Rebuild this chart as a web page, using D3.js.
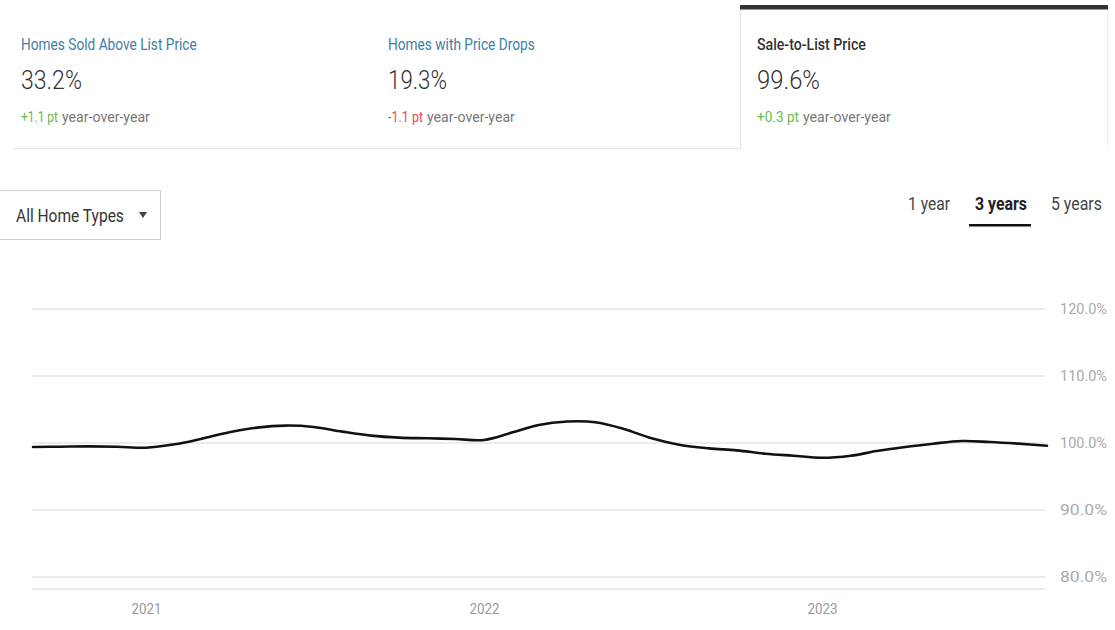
<!DOCTYPE html>
<html>
<head>
<meta charset="utf-8">
<script src="https://cdn.jsdelivr.net/npm/d3@7"></script>
<style>
  html, body { margin: 0; padding: 0; background: #fff; }
  svg { display: block; }
  text { font-family: Roboto, 'Noto Sans', sans-serif; }
</style>
</head>
<body>
<svg id="chart" width="1115" height="630"></svg>
<script>
// Monthly sale-to-list price ratio (%), Sep 2020 through Sep 2023
const months = d3.timeMonths(new Date(2020, 8, 1), new Date(2023, 9, 1));
const saleToList = [
  99.4, 99.45, 99.5, 99.45, 99.3, 99.8, 100.6, 101.6, 102.3, 102.6, 102.4, 101.7,
  101.1, 100.8, 100.7, 100.6, 100.45, 101.6, 102.7, 103.2, 103.1, 102.1, 100.7, 99.7,
  99.2, 98.9, 98.4, 98.1, 97.8, 98.1, 98.8, 99.4, 99.9, 100.3, 100.15, 99.9, 99.6
];
const yTicks = [80, 90, 100, 110, 120];
const xTickYears = [2021, 2022, 2023];

// Summary cards
const cardTitles = ["Homes Sold Above List Price", "Homes with Price Drops", "Sale-to-List Price"];
const cardValues = ["33.2%", "19.3%", "99.6%"];
const cardDeltas = ["+1.1 pt", "-1.1 pt", "+0.3 pt"];
const deltaCaption = "year-over-year";
const rangeOptions = ["1 year", "3 years", "5 years"];
const homeTypeLabel = "All Home Types";

// rendered widths of the condensed UI type
const titleW = [176, 147, 109];
const valueW = [61, 59, 63];
const deltaW = [37, 35, 42];
const captionW = 88;
const rangeW = [42, 52, 51];

const svg = d3.select("#chart");

// Squeeze a text horizontally to a given width (condensed look)
function fit(sel, w) {
  sel.each(function () {
    const t = d3.select(this);
    const x0 = +t.attr("x") || 0;
    const natural = this.getComputedTextLength();
    const k = natural > 0 ? w / natural : 1;
    const anchor = t.attr("text-anchor") || getComputedStyle(this).textAnchor;
    t.attr("x", 0)
      .attr("transform", `translate(${x0},0) scale(${k},1)`);
  });
}

// ---- cards ----
const cardTextX = [21, 388, 757];
const cardRight = 1107;
const activeCard = 2;

// bottom divider under the inactive cards
svg.append("line")
  .attr("x1", 13).attr("x2", 740).attr("y1", 148.5).attr("y2", 148.5)
  .attr("stroke", "#e3e3e3").attr("stroke-width", 1);
// active card frame
svg.append("line")
  .attr("x1", 740.5).attr("x2", 740.5).attr("y1", 8).attr("y2", 149)
  .attr("stroke", "#e3e3e3");
svg.append("line")
  .attr("x1", cardRight + 0.5).attr("x2", cardRight + 0.5).attr("y1", 8).attr("y2", 149)
  .attr("stroke", "#eeeeee");
svg.append("rect")
  .attr("x", 740).attr("y", 5).attr("width", cardRight - 740 + 1).attr("height", 4.5)
  .attr("fill", "#333");

const cards = svg.selectAll("g.card")
  .data(cardTitles.map((t, i) => ({ t, v: cardValues[i], d: cardDeltas[i], i })))
  .join("g")
  .attr("class", "card")
  .attr("transform", d => `translate(${cardTextX[d.i]},0)`);

cards.append("text")
  .attr("y", 50)
  .attr("font-size", 16)
  .attr("fill", d => d.i === activeCard ? "#333" : "#3f7ea6")
  .attr("font-weight", d => d.i === activeCard ? 500 : 400)
  .text(d => d.t)
  .each(function (d) { fit(d3.select(this), titleW[d.i]); });

cards.append("text")
  .attr("y", 89)
  .attr("font-size", 26)
  .attr("font-weight", 300)
  .attr("fill", "#333")
  .text(d => d.v)
  .each(function (d) { fit(d3.select(this), valueW[d.i]); });

cards.append("text")
  .attr("y", 122)
  .attr("font-size", 15)
  .attr("fill", d => d.d.startsWith("-") ? "#f0444f" : "#6cb84e")
  .text(d => d.d)
  .each(function (d) { fit(d3.select(this), deltaW[d.i]); });

cards.append("text")
  .attr("x", d => deltaW[d.i] + 4)
  .attr("y", 122)
  .attr("font-size", 15)
  .attr("fill", "#777")
  .text(deltaCaption)
  .call(fit, captionW);

// ---- home type dropdown ----
svg.append("rect")
  .attr("x", -1.5).attr("y", 190.5).attr("width", 162).attr("height", 49)
  .attr("fill", "#fff").attr("stroke", "#cfcfcf");
svg.append("text")
  .attr("x", 16).attr("y", 222)
  .attr("font-size", 18).attr("fill", "#333")
  .text(homeTypeLabel)
  .call(fit, 108);
svg.append("path")
  .attr("d", "M139,212 L147,212 L143,218 Z")
  .attr("fill", "#444");

// ---- time range toggle ----
const rangeX = [908, 975, 1051];
svg.selectAll("text.range")
  .data(rangeOptions)
  .join("text")
  .attr("class", "range")
  .attr("x", (d, i) => rangeX[i])
  .attr("y", 210)
  .attr("font-size", 18)
  .attr("font-weight", d => d === "3 years" ? 700 : 400)
  .attr("fill", d => d === "3 years" ? "#222" : "#444")
  .text(d => d)
  .each(function (d, i) { fit(d3.select(this), rangeW[i]); });
svg.append("rect")
  .attr("x", 969).attr("y", 224).attr("width", 62).attr("height", 2.5)
  .attr("fill", "#111");

// ---- line chart ----
const x = d3.scaleTime()
  .domain([months[0], months[months.length - 1]])
  .range([33, 1047]);
const y = d3.scaleLinear()
  .domain([80, 120])
  .range([577, 309]);

// horizontal gridlines
svg.append("g")
  .selectAll("line")
  .data(yTicks)
  .join("line")
  .attr("x1", 32).attr("x2", 1045)
  .attr("y1", d => y(d)).attr("y2", d => y(d))
  .attr("stroke", "#ebebeb").attr("stroke-width", 2);

// bottom baseline
svg.append("line")
  .attr("x1", 32).attr("x2", 1045).attr("y1", 589).attr("y2", 589)
  .attr("stroke", "#ebebeb").attr("stroke-width", 2);

// y axis labels on the right
const yAxis = d3.axisRight(y)
  .tickValues(yTicks)
  .tickSize(0)
  .tickPadding(0)
  .tickFormat(d => d3.format(".1f")(d) + "%");
svg.append("g")
  .attr("transform", "translate(1060,0)")
  .call(yAxis)
  .call(g => g.select(".domain").remove())
  .call(g => g.selectAll("text")
    .attr("font-size", 15)
    .attr("fill", "#a9a9a9")
    .style("font-family", "Roboto, 'Noto Sans', sans-serif")
    .call(fit, 47));

// x axis year labels
const xAxis = d3.axisBottom(x)
  .tickValues(xTickYears.map(yr => new Date(yr, 0, 1)))
  .tickSize(0)
  .tickPadding(0)
  .tickFormat(d3.timeFormat("%Y"));
svg.append("g")
  .attr("transform", "translate(0,603)")
  .call(xAxis)
  .call(g => g.select(".domain").remove())
  .call(g => g.selectAll("text")
    .attr("font-size", 15)
    .attr("fill", "#999")
    .style("font-family", "Roboto, 'Noto Sans', sans-serif")
    .call(fit, 30));

// the series
const line = d3.line()
  .x((d, i) => x(months[i]))
  .y(d => y(d))
  .curve(d3.curveCatmullRom.alpha(0.5));
svg.append("path")
  .datum(saleToList)
  .attr("fill", "none")
  .attr("stroke", "#111")
  .attr("stroke-width", 2.6)
  .attr("stroke-linejoin", "round")
  .attr("stroke-linecap", "round")
  .attr("d", line);
</script>
</body>
</html>
